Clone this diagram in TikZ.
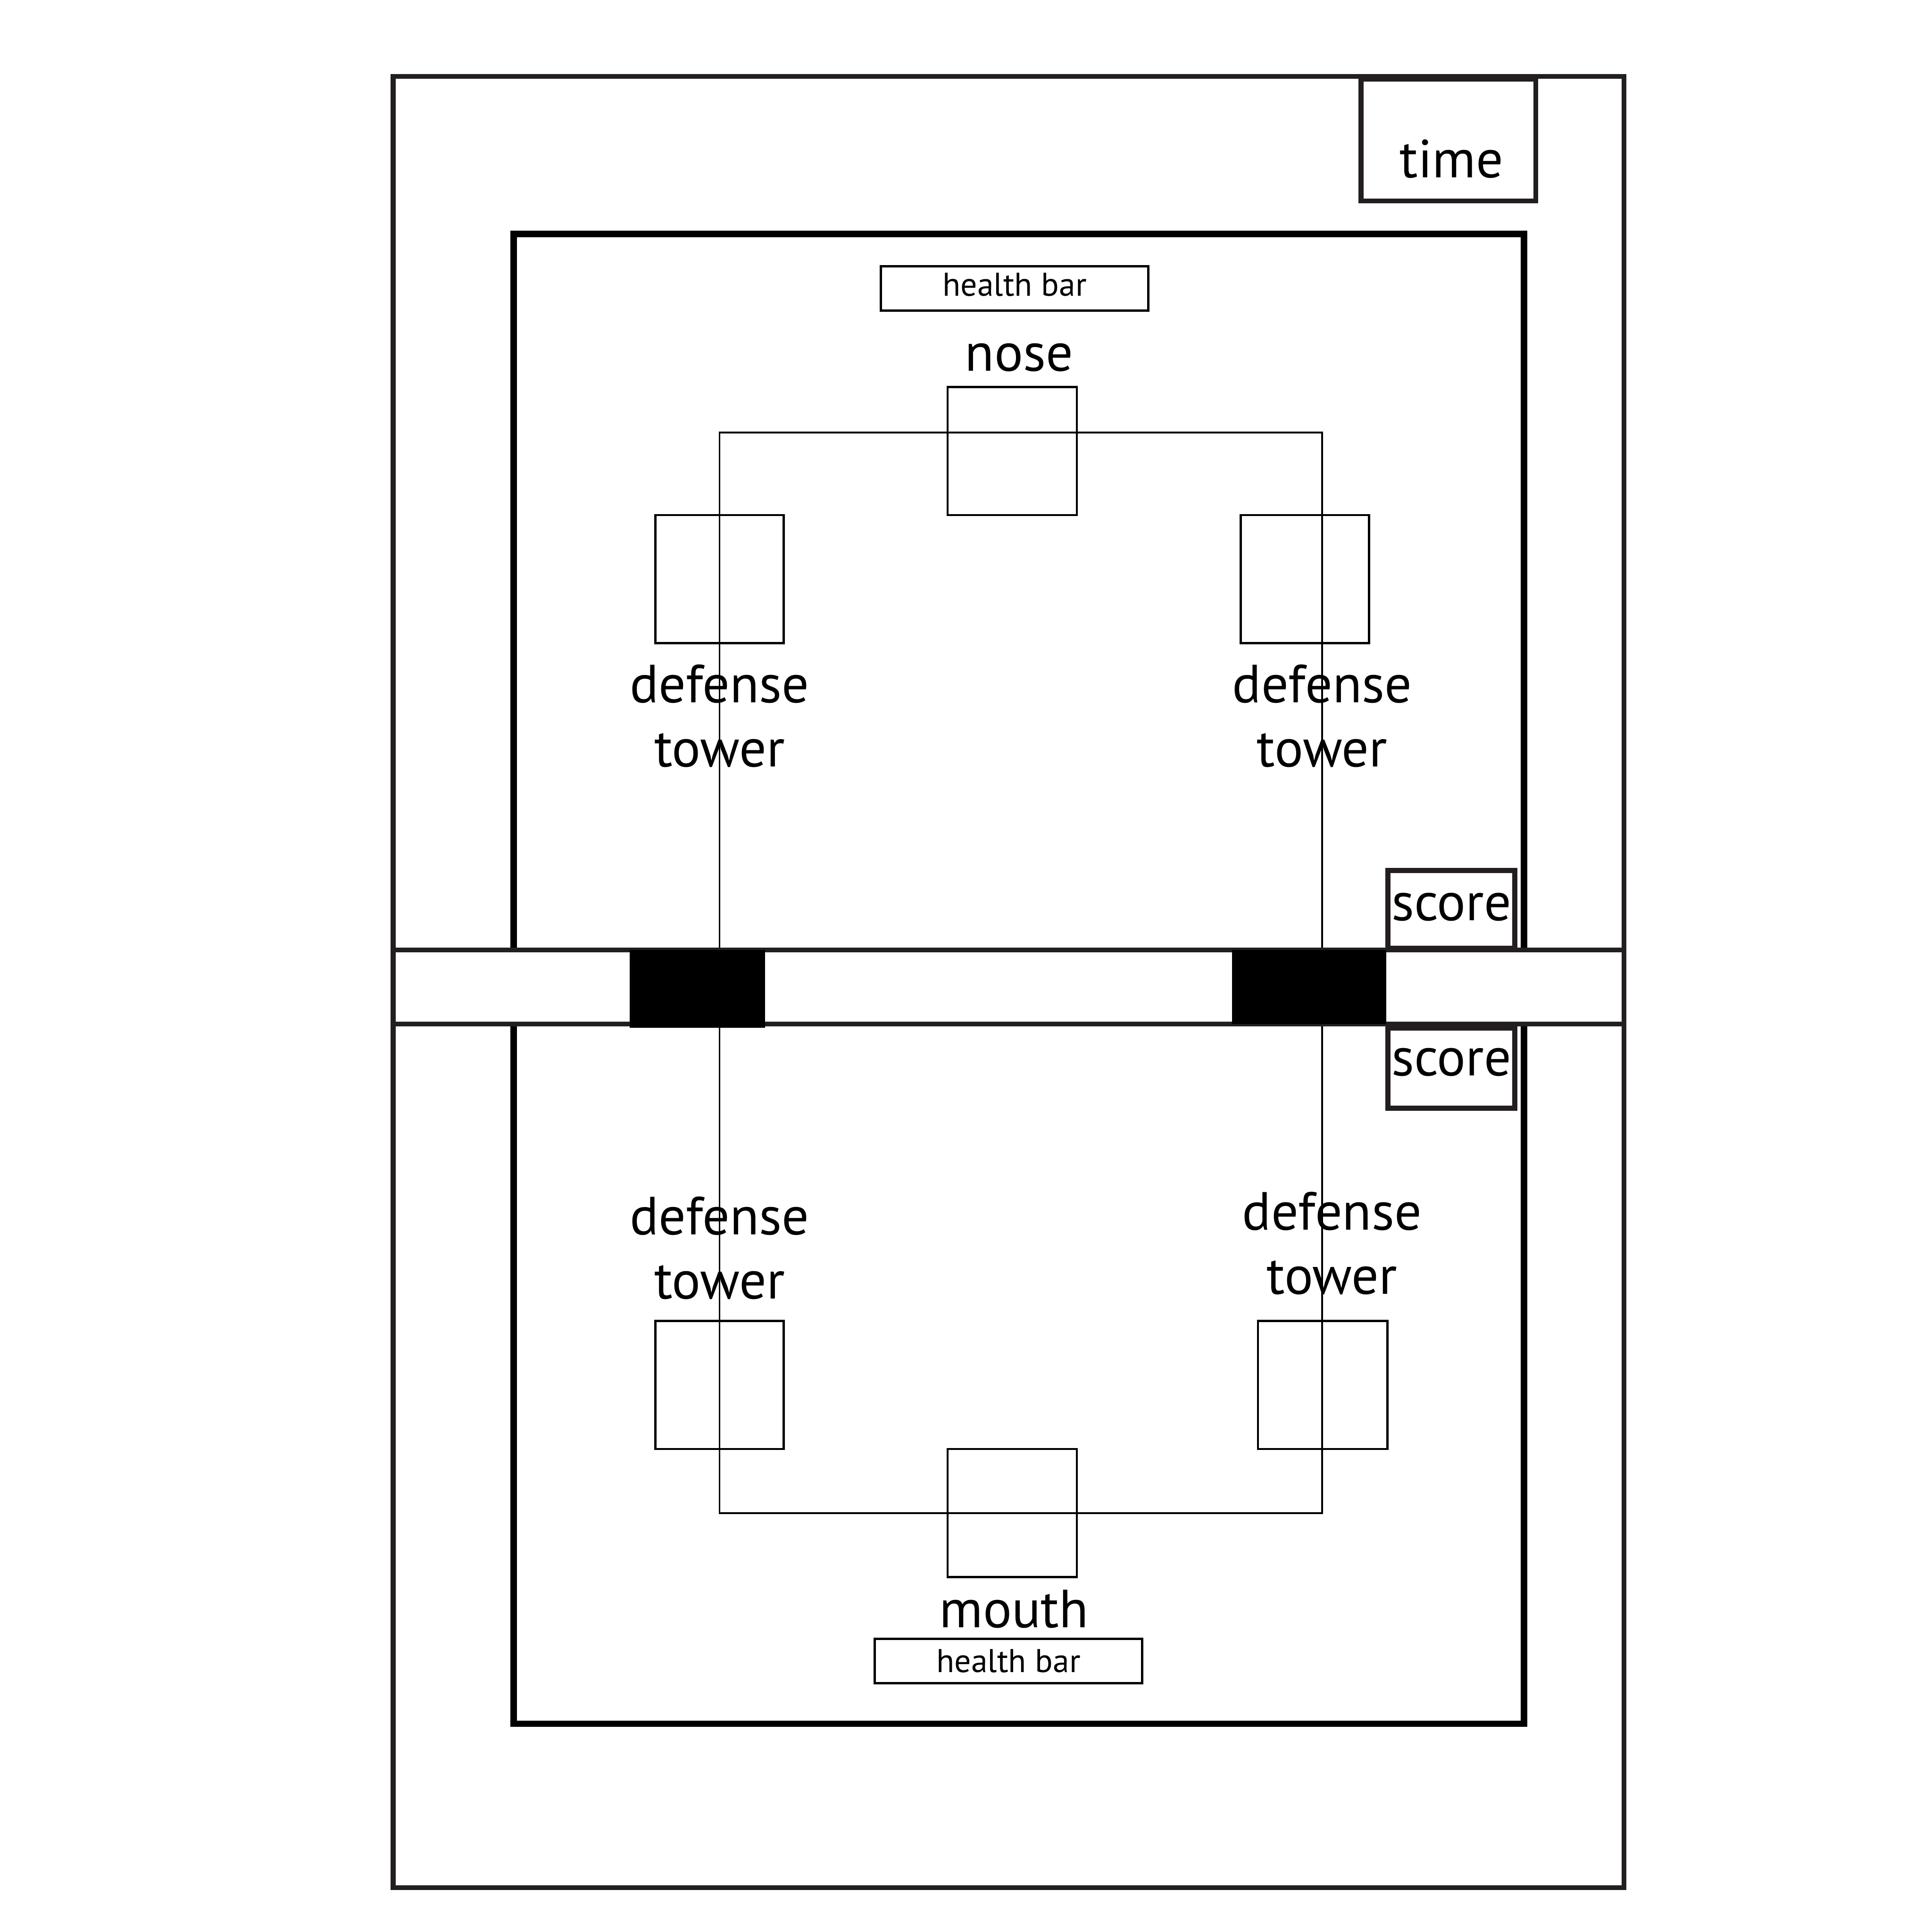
\documentclass[tikz,border=0pt]{standalone}
\usepackage{fontspec}
\setmainfont{PT Sans}
\definecolor{ink}{HTML}{231F20}
\begin{document}
\begin{tikzpicture}[x=0.01cm,y=-0.01cm,
  frame/.style={draw=ink,line width=1.15pt},
  arena/.style={draw=black,line width=1.5pt},
  thinbox/.style={draw=black,line width=0.5pt,fill=white,inner sep=0pt},
  route/.style={draw=black,line width=0.4pt},
  big/.style={font=\fontsize{12.4}{14.8}\selectfont,align=center,inner sep=0pt},
  small/.style={font=\fontsize{7.6}{9}\selectfont,inner sep=0pt},
  hud/.style={draw=ink,line width=1.15pt,fill=white,inner sep=0pt}]
\useasboundingbox (0,0) rectangle (1568,1568);
\fill[white] (0,0) rectangle (1568,1568);
% outer frame
\draw[frame] (319,62) rectangle (1318,1532);
% arenas
\draw[arena] (417,771) -- (417,190) -- (1237,190) -- (1237,771);
\draw[arena] (417,831) -- (417,1399) -- (1237,1399) -- (1237,831);
% route corner points
\coordinate (tl) at (584,351);
\coordinate (tr) at (1073,351);
\coordinate (tlb) at (584,771);
\coordinate (trb) at (1073,771);
\coordinate (bl) at (584,1228);
\coordinate (br) at (1073,1228);
\coordinate (blt) at (584,831);
\coordinate (brt) at (1073,831);
% boxes (top)
\node[thinbox,minimum width=217*0.01cm,minimum height=36*0.01cm] (hbtop) at (823.5,234) {};
\node[small] (hbtoptxt) at (823.5,231) {health bar};
\node[big] (nose) at (827,290) {nose};
\node[thinbox,minimum width=105*0.01cm,minimum height=104*0.01cm] (nosebox) at (821.5,366) {};
\node[thinbox,minimum width=104*0.01cm,minimum height=104*0.01cm] (tw1) at (584,470) {};
\node[thinbox,minimum width=104*0.01cm,minimum height=104*0.01cm] (tw2) at (1059,470) {};
% boxes (bottom)
\node[thinbox,minimum width=104*0.01cm,minimum height=104*0.01cm] (tw3) at (584,1124) {};
\node[thinbox,minimum width=105*0.01cm,minimum height=104*0.01cm] (tw4) at (1073.5,1124) {};
\node[thinbox,minimum width=105*0.01cm,minimum height=104*0.01cm] (mouthbox) at (821.5,1228) {};
\node[big] (mouth) at (823,1306) {mouth};
\node[thinbox,minimum width=217*0.01cm,minimum height=36*0.01cm] (hbbot) at (818.5,1348) {};
\node[small] (hbbottxt) at (818.5,1348) {health bar};
% route drawn over boxes
\draw[route] (tlb) -- (tl) -- (tr) -- (trb);
\draw[route] (blt) -- (bl) -- (br) -- (brt);
% tower labels
\node[big] (lab1) at (584,581) {defense\\tower};
\node[big] (lab2) at (1073,581) {defense\\tower};
\node[big] (lab3) at (584,1013) {defense\\tower};
\node[big] (lab4) at (1081,1009) {defense\\tower};
% central band
\fill[white] (319,771) rectangle (1318,831);
\draw[frame] (319,771) -- (1318,771);
\draw[frame] (319,831) -- (1318,831);
\draw[frame] (319,771) -- (319,831);
\draw[frame] (1318,771) -- (1318,831);
\fill[black] (511,771) rectangle (621,834);
\fill[black] (1000,771) rectangle (1125,831);
% HUD boxes
\node[hud,minimum width=142*0.01cm,minimum height=99*0.01cm] (timebox) at (1175.5,113.5) {};
\node[big] (time) at (1178,129) {time};
\node[hud,minimum width=103*0.01cm,minimum height=63*0.01cm] (score1) at (1178,738) {};
\node[big] (s1) at (1178,736) {score};
\node[hud,minimum width=103*0.01cm,minimum height=65*0.01cm] (score2) at (1178,867) {};
\node[big] (s2) at (1178,862) {score};
\end{tikzpicture}
\end{document}
